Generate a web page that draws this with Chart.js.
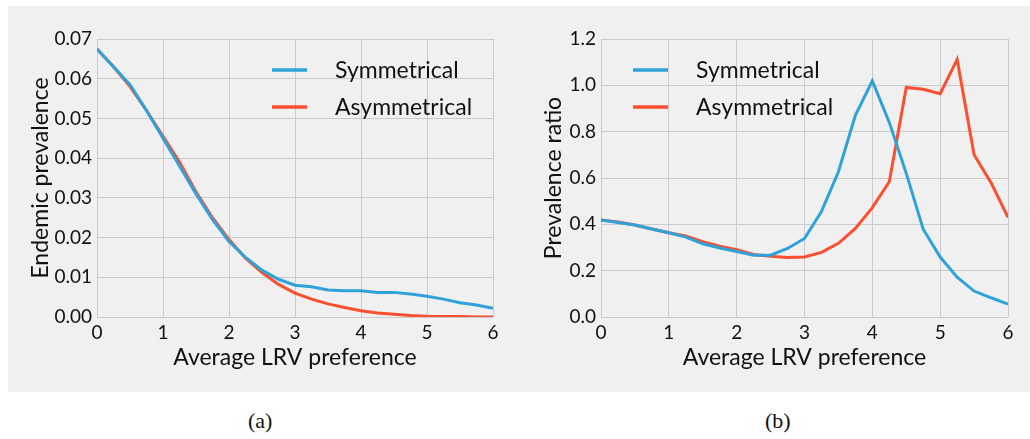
<!DOCTYPE html>
<html>
<head>
<meta charset="utf-8">
<script src="https://cdn.jsdelivr.net/npm/chart.js@4.4.1/dist/chart.umd.min.js"></script>
<style>
    body { margin: 0; background: #fff; width: 1030px; height: 439px; position: relative; overflow: hidden; }
    #panel { position: absolute; left: 8px; top: 6px; width: 1022px; height: 386px; background: #f0f0f0; }
    #chartA { position: absolute; left: 0; top: 0; }
    #chartB { position: absolute; left: 510px; top: 0; }
    .cap { position: absolute; top: 408px; font-family: "Liberation Serif", serif; font-size: 22px; color: #111; }
</style>
</head>
<body>
<div id="panel">
    <canvas id="chartA" width="510" height="386"></canvas>
    <canvas id="chartB" width="512" height="386"></canvas>
</div>
<div class="cap" style="left: 248px;">(a)</div>
<div class="cap" style="left: 765px;">(b)</div>

<script>
// --- DATA ---
const lrv = [0, 0.25, 0.5, 0.75, 1, 1.25, 1.5, 1.75, 2, 2.25, 2.5, 2.75, 3,
             3.25, 3.5, 3.75, 4, 4.25, 4.5, 4.75, 5, 5.25, 5.5, 5.75, 6];

// (a) endemic prevalence
const prevSym = [0.0675, 0.063, 0.0585, 0.052, 0.045, 0.038, 0.031, 0.0245, 0.019, 0.015, 0.0118, 0.0095, 0.008,
                 0.0076, 0.0068, 0.0066, 0.0066, 0.0062, 0.0062, 0.0058, 0.0052, 0.0045, 0.0036, 0.003, 0.0022];
const prevAsym = [0.0675, 0.063, 0.058, 0.052, 0.0455, 0.039, 0.0315, 0.025, 0.0195, 0.0148, 0.0112, 0.0082, 0.006,
                  0.0045, 0.0033, 0.0024, 0.0016, 0.001, 0.0007, 0.0004, 0.0002, 0.0001, 0.0001, 0.0, 0.0];

// (b) prevalence ratio
const ratioSym = [0.419, 0.408, 0.397, 0.38, 0.364, 0.345, 0.316, 0.298, 0.283, 0.267, 0.267, 0.296, 0.339,
                  0.455, 0.627, 0.871, 1.019, 0.84, 0.62, 0.379, 0.259, 0.172, 0.112, 0.083, 0.056];
const ratioAsym = [0.419, 0.41, 0.397, 0.38, 0.364, 0.35, 0.325, 0.306, 0.29, 0.27, 0.262, 0.257, 0.259,
                   0.279, 0.318, 0.382, 0.472, 0.584, 0.991, 0.983, 0.964, 1.112, 0.70, 0.58, 0.43];

const xTicks = [0, 1, 2, 3, 4, 5, 6];

const BLUE = '#30a2da';
const RED = '#fc4f30';
const FONT = 'Lato';

// legend drawn inside the plot area
const lineLegend = {
    id: 'lineLegend',
    afterDraw(chart, args, opts) {
        const ctx = chart.ctx;
        const area = chart.chartArea;
        ctx.save();
        ctx.font = '23px ' + FONT;
        ctx.textBaseline = 'middle';
        chart.data.datasets.forEach((ds, i) => {
            const x = area.left + opts.x;
            const y = area.top + 31 + i * 37;
            ctx.strokeStyle = ds.borderColor;
            ctx.lineWidth = 3.5;
            ctx.beginPath();
            ctx.moveTo(x, y);
            ctx.lineTo(x + 35, y);
            ctx.stroke();
            ctx.fillStyle = '#111';
            ctx.fillText(ds.label, x + 63, y + 1);
        });
        ctx.restore();
    }
};

function makeChart(id, symData, asymData, opt) {
    const pts = arr => arr.map((v, i) => ({ x: lrv[i], y: v }));
    return new Chart(document.getElementById(id), {
        type: 'line',
        data: {
            datasets: [
                { label: 'Symmetrical', data: pts(symData), borderColor: BLUE, borderWidth: 3, pointRadius: 0, tension: 0 },
                { label: 'Asymmetrical', data: pts(asymData), borderColor: RED, borderWidth: 3, pointRadius: 0, tension: 0 }
            ]
        },
        options: {
            responsive: false,
            animation: false,
            layout: { padding: { left: 0, top: 33, right: opt.right, bottom: 0 } },
            plugins: {
                legend: { display: false },
                tooltip: { enabled: false },
                lineLegend: { x: opt.legendX }
            },
            scales: {
                x: {
                    type: 'linear', min: 0, max: 6,
                    afterBuildTicks: s => { s.ticks = xTicks.map(v => ({ value: v })); },
                    afterFit: s => { s.height = 75; },
                    grid: { color: '#cbcbcb', lineWidth: 1, drawTicks: false },
                    border: { display: false },
                    ticks: { color: '#111', font: { family: FONT, size: 19 }, padding: 4, maxRotation: 0 },
                    title: { display: true, text: 'Average LRV preference', color: '#111',
                             font: { family: FONT, size: 23 }, padding: { top: 0, bottom: 21 } }
                },
                y: {
                    min: 0, max: opt.yMax,
                    afterBuildTicks: s => { s.ticks = opt.yTicks.map(v => ({ value: v })); },
                    afterFit: s => { s.width = opt.yWidth; },
                    grid: { color: '#cbcbcb', lineWidth: 1, drawTicks: false },
                    border: { display: false },
                    ticks: { color: '#111', font: { family: FONT, size: 19 }, padding: 5,
                             callback: v => v.toFixed(opt.dec) },
                    title: { display: true, text: opt.yTitle, color: '#111',
                             font: { family: FONT, size: 23 }, padding: { top: opt.titlePad, bottom: 0 } }
                }
            }
        },
        plugins: [lineLegend]
    });
}

makeChart('chartA', prevSym, prevAsym, {
    yMax: 0.07, yTicks: [0, 0.01, 0.02, 0.03, 0.04, 0.05, 0.06, 0.07], dec: 2,
    yTitle: 'Endemic prevalence', yWidth: 89, titlePad: 19, right: 25, legendX: 175
});

makeChart('chartB', ratioSym, ratioAsym, {
    yMax: 1.2, yTicks: [0, 0.2, 0.4, 0.6, 0.8, 1.0, 1.2], dec: 1,
    yTitle: 'Prevalence ratio', yWidth: 83, titlePad: 22, right: 22, legendX: 32
});
</script>
</body>
</html>
